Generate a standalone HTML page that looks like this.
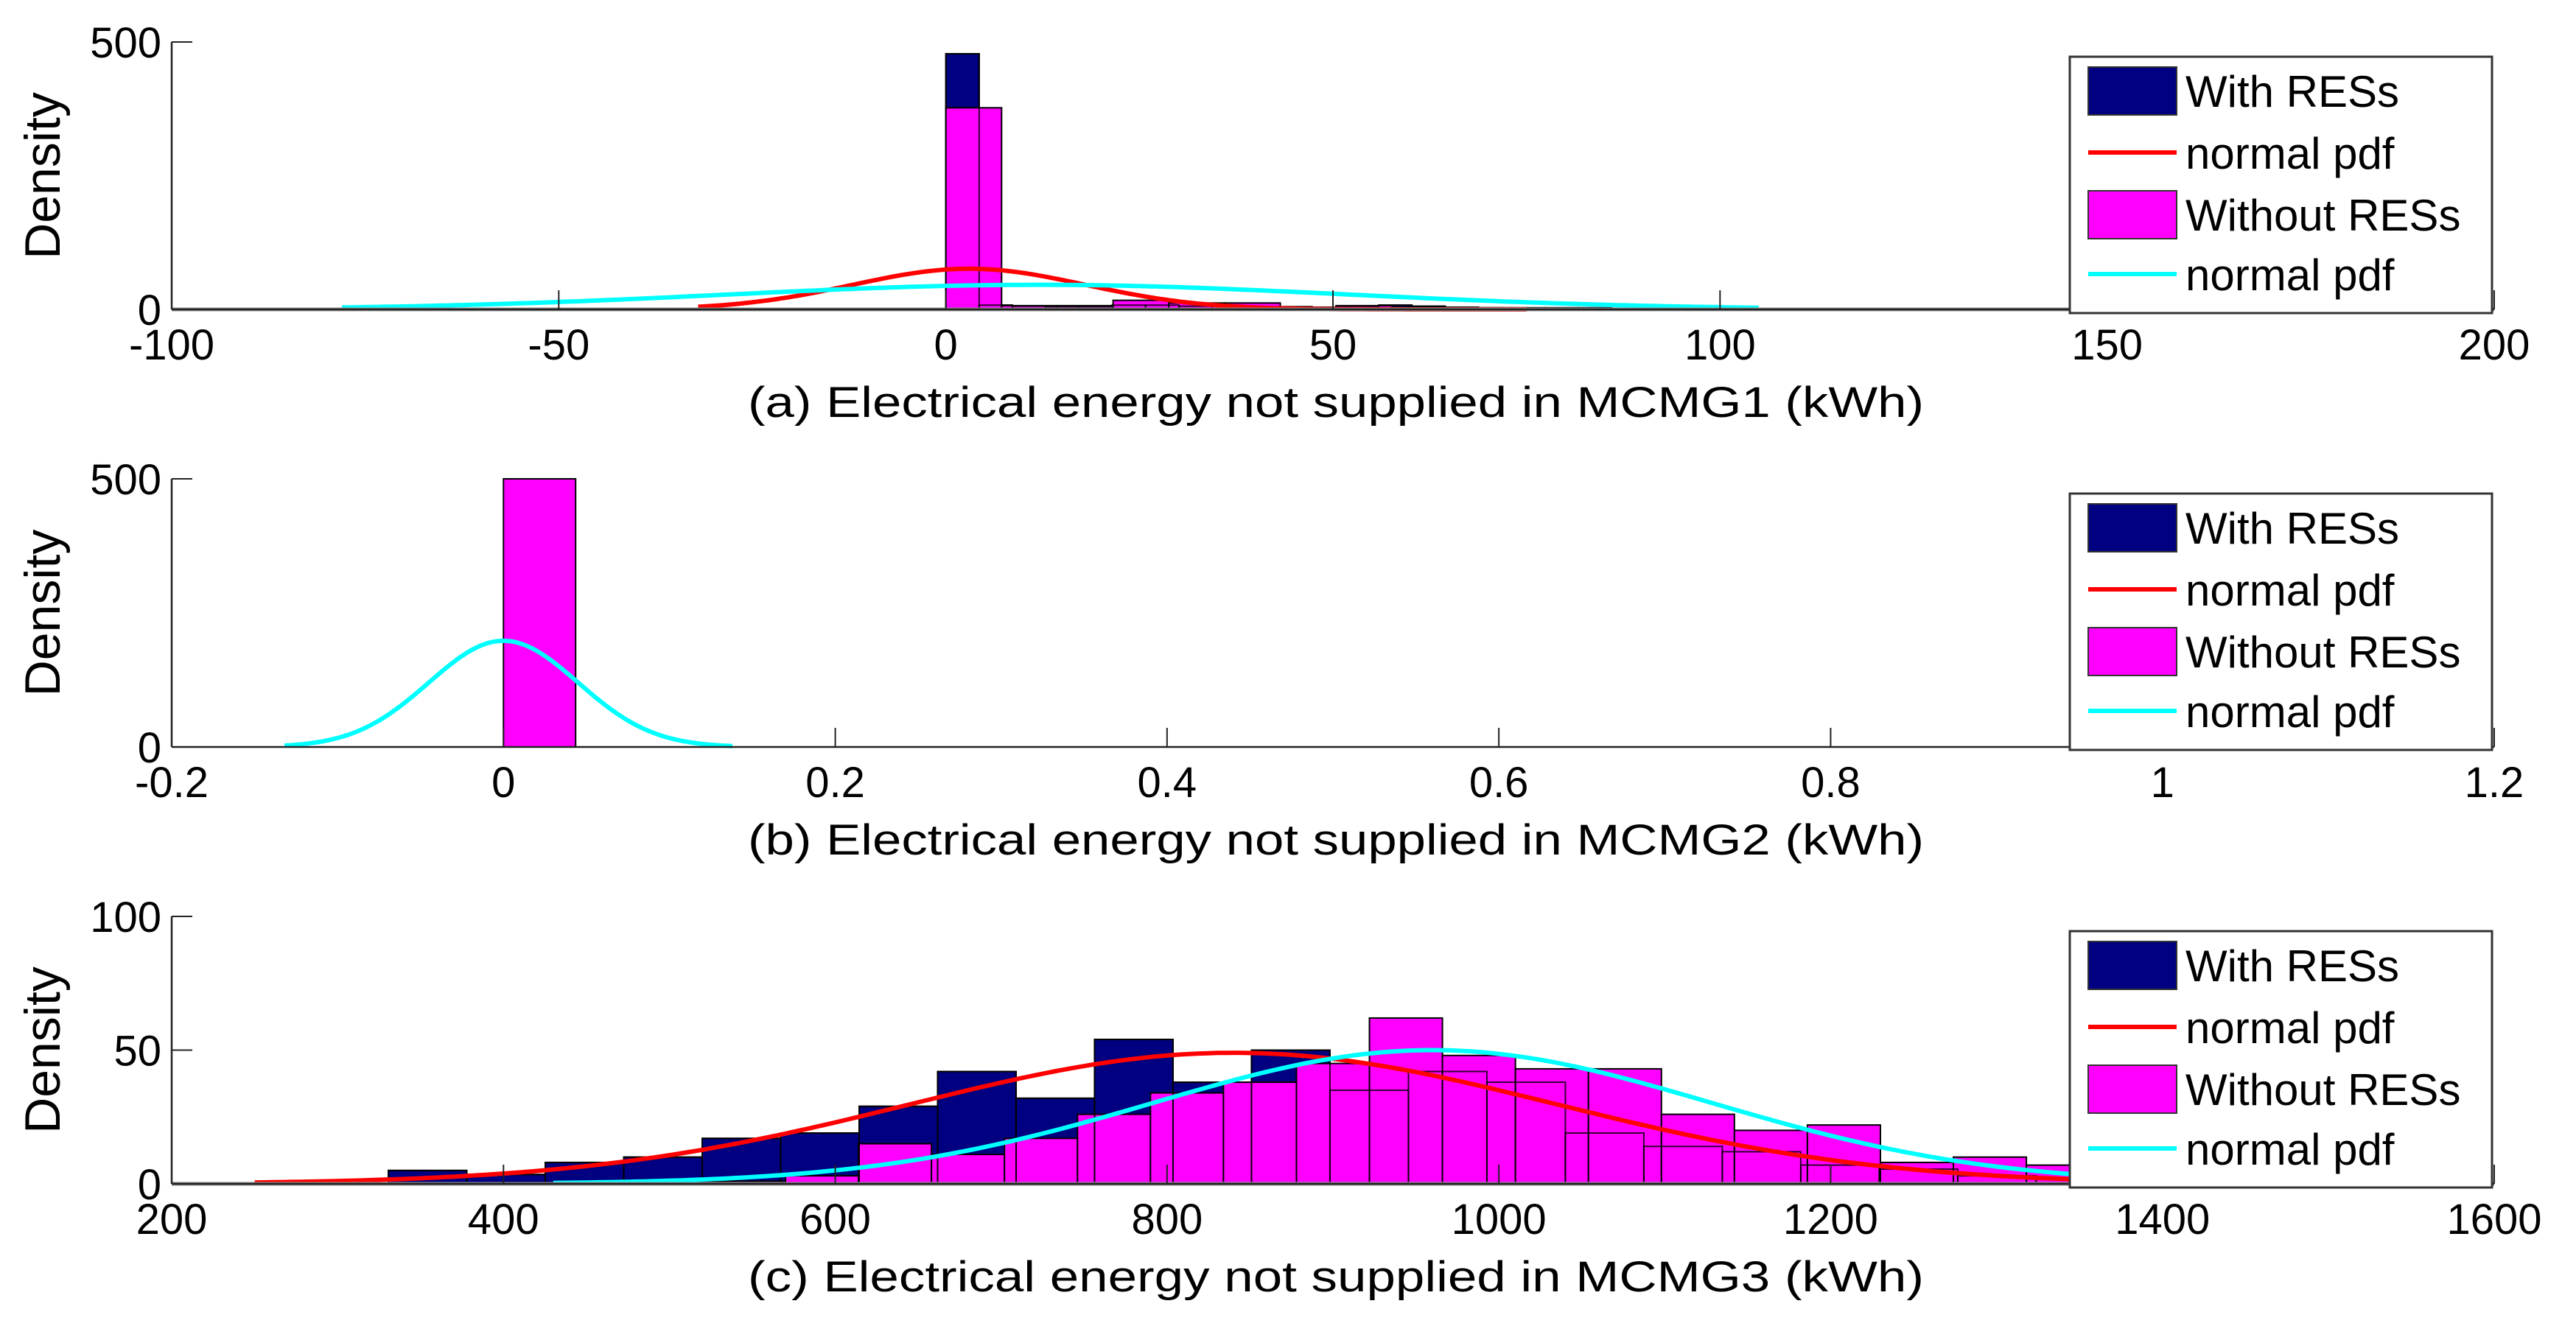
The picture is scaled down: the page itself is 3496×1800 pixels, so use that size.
<!DOCTYPE html>
<html><head><meta charset="utf-8"><style>
html,body{margin:0;padding:0;background:#fff}
svg{display:block}
text{font-family:"Liberation Sans",Arial,sans-serif;fill:#000}
</style></head><body>
<svg id="chart" width="3496" height="1800" viewBox="0 0 3496 1800" xmlns="http://www.w3.org/2000/svg"></svg>
<script>
// ---------- Panel (a) data ----------
const aXTicks = [-100, -50, 0, 50, 100, 150, 200];
const aYTicks = [0, 500];
const aBlueStart = 0, aBlueWidth = 4.3;
const aBlueValues = [478, 8, 6, 5, 5, 8, 8, 6, 6, 5, 5, 4, 4, 8, 6, 4, 3, 3, 3, 3, 2, 2, 2, 2, 1, 1, 1, 1, 1, 1, 1, 1, 1, 1, 1];
const aPinkStart = 0, aPinkWidth = 7.2;
const aPinkValues = [377, 7, 7, 17, 12, 12, 3, 7, 4, 3, 2, 1];
const aRedPdf = [3, 15, 76, -32, 75];     // mean, sd, peak, from, to
const aCyanPdf = [12, 40, 46, -78, 105];

// ---------- Panel (b) data ----------
const bXTicks = [-0.2, 0, 0.2, 0.4, 0.6, 0.8, 1, 1.2];
const bYTicks = [0, 500];
const bBlueStart = 0, bBlueWidth = 0.0435;
const bBlueValues = [];
const bPinkStart = 0, bPinkWidth = 0.0435;
const bPinkValues = [500];
const bRedPdf = null;
const bCyanPdf = [0, 0.045, 198, -0.132, 0.138];

// ---------- Panel (c) data ----------
const cXTicks = [200, 400, 600, 800, 1000, 1200, 1400, 1600];
const cYTicks = [0, 50, 100];
const cBlueStart = 330.6, cBlueWidth = 47.3;
const cBlueValues = [5, 3.5, 8, 10, 17, 19, 29, 42, 32, 54, 38, 50, 35, 42, 38, 19, 14, 12, 7, 5.5, 3, 2];
const cPinkStart = 482, cPinkWidth = 44;
const cPinkValues = [1, 1, 3, 15, 11, 17, 26, 34, 38, 45, 62, 48, 43, 43, 26, 20, 22, 8, 10, 7];
const cRedPdf = [840, 195, 49, 250, 1345];
const cCyanPdf = [960, 168, 50, 430, 1345];

const labels = ["(a) Electrical energy not supplied in MCMG1 (kWh)",
                "(b) Electrical energy not supplied in MCMG2 (kWh)",
                "(c) Electrical energy not supplied in MCMG3 (kWh)"];
const legendLabels = ["With RESs", "normal pdf", "Without RESs", "normal pdf"];

const NS = "http://www.w3.org/2000/svg";
const svg = document.getElementById('chart');
function mk(tag, attrs, parent) {
  const e = document.createElementNS(NS, tag);
  for (const k in attrs) e.setAttribute(k, attrs[k]);
  (parent || svg).appendChild(e);
  return e;
}

const panels = [
  {id:'a', top:57, bottom:420, xmin:-100, xmax:200, ymax:500, xt:aXTicks, yt:aYTicks,
   bs:aBlueStart, bw:aBlueWidth, bv:aBlueValues, ps:aPinkStart, pw:aPinkWidth, pv:aPinkValues,
   red:aRedPdf, cyan:aCyanPdf, gray:true, label:labels[0]},
  {id:'b', top:650, bottom:1014, xmin:-0.2, xmax:1.2, ymax:500, xt:bXTicks, yt:bYTicks,
   bs:bBlueStart, bw:bBlueWidth, bv:bBlueValues, ps:bPinkStart, pw:bPinkWidth, pv:bPinkValues,
   red:bRedPdf, cyan:bCyanPdf, gray:false, label:labels[1]},
  {id:'c', top:1244, bottom:1607, xmin:200, xmax:1600, ymax:100, xt:cXTicks, yt:cYTicks,
   bs:cBlueStart, bw:cBlueWidth, bv:cBlueValues, ps:cPinkStart, pw:cPinkWidth, pv:cPinkValues,
   red:cRedPdf, cyan:cCyanPdf, gray:true, label:labels[2]}
];
const L = 233, R = 3385;

function fmt(v){ return String(Math.round(v*1000)/1000); }

panels.forEach(p => {
  const g = mk('g', {});
  
  
  const xs = v => L + (v - p.xmin) / (p.xmax - p.xmin) * (R - L);
  const ys = v => p.bottom - v / p.ymax * (p.bottom - p.top);

  // blue bars
  p.bv.forEach((v, i) => {
    const x0 = xs(p.bs + i * p.bw), x1 = xs(p.bs + (i + 1) * p.bw);
    const r = mk('rect', {x:x0, y:ys(v), width:x1 - x0, height:p.bottom - ys(v), fill:'#000080', stroke:'#000', 'stroke-width':2}, g);
    
    
  });
  // pink bars
  p.pv.forEach((v, i) => {
    const x0 = xs(p.ps + i * p.pw), x1 = xs(p.ps + (i + 1) * p.pw);
    const r = mk('rect', {x:x0, y:ys(v), width:x1 - x0, height:p.bottom - ys(v), fill:'#ff00ff', stroke:'#000', 'stroke-width':2}, g);
    
    
  });
  // blue outlines on top
  p.bv.forEach((v, i) => {
    const x0 = xs(p.bs + i * p.bw), x1 = xs(p.bs + (i + 1) * p.bw);
    mk('rect', {x:x0, y:ys(v), width:x1 - x0, height:p.bottom - ys(v), fill:'none', stroke:'#000', 'stroke-width':2, 'stroke-opacity':0.8}, g);
  });
  // pdf curves
  [[p.red, '#ff0000', 'red-normal-pdf'], [p.cyan, '#00ffff', 'cyan-normal-pdf']].forEach(([c, col, nm]) => {
    if (!c) return;
    const [mu, sd, pk, a, b] = c;
    let d = '';
    for (let k = 0; k <= 200; k++) {
      const x = a + (b - a) * k / 200;
      const y = pk * Math.exp(-((x - mu) ** 2) / (2 * sd * sd));
      d += (k ? 'L' : 'M') + xs(x).toFixed(1) + ',' + ys(y).toFixed(1);
    }
    const path = mk('path', {d:d, fill:'none', stroke:col, 'stroke-width':6}, g);
    
    
  });

  // axes
  if (p.gray) mk('line', {x1:L, y1:p.bottom, x2:R, y2:p.bottom, stroke:'#888', 'stroke-width':5}, g);
  const xa = mk('line', {x1:L, y1:p.bottom, x2:R, y2:p.bottom, stroke:'#222', 'stroke-width':2.5}, g);
  
  
  const ya = mk('line', {x1:L, y1:p.top, x2:L, y2:p.bottom, stroke:'#222', 'stroke-width':2.5}, g);
  
  

  p.xt.forEach(t => {
    const x = xs(t);
    mk('line', {x1:x, y1:p.bottom, x2:x, y2:p.bottom - 26, stroke:'#222', 'stroke-width':2}, g);
    const tx = mk('text', {x:x, y:p.bottom + 68, 'font-size':58, 'text-anchor':'middle'}, g);
    tx.textContent = fmt(t);
    
    
  });
  p.yt.forEach(t => {
    const y = ys(t);
    mk('line', {x1:L, y1:y, x2:L + 28, y2:y, stroke:'#222', 'stroke-width':2}, g);
    const tx = mk('text', {x:L - 14, y:y + 21, 'font-size':58, 'text-anchor':'end'}, g);
    tx.textContent = fmt(t);
    
    
  });

  const yl = mk('text', {x:0, y:0, 'font-size':68, 'text-anchor':'middle',
    transform:'translate(81,' + ((p.top + p.bottom) / 2) + ') rotate(-90)'}, g);
  yl.textContent = 'Density';
  
  

  const xl = mk('text', {x:1015, y:p.bottom + 146, 'font-size':58, textLength:1596, lengthAdjust:'spacingAndGlyphs'}, g);
  xl.textContent = p.label;
  
  

  // legend
  const lt = p.top + 20;
  const lg = mk('g', {}, g);
  
  
  mk('rect', {x:2809, y:lt, width:573, height:348, fill:'#fff', stroke:'#333', 'stroke-width':3}, lg);
  const rows = [46, 130, 214, 295];
  rows.forEach((off, i) => {
    const cy = lt + off;
    let sw;
    if (i === 0 || i === 2) {
      sw = mk('rect', {x:2834, y:cy - 32, width:120, height:65, fill:i === 0 ? '#000080' : '#ff00ff', stroke:'#333', 'stroke-width':2}, lg);
    } else {
      sw = mk('line', {x1:2834, y1:cy, x2:2954, y2:cy, stroke:i === 1 ? '#ff0000' : '#00ffff', 'stroke-width':6}, lg);
    }
    
    
    const attrs = {x:2966, y:cy + 22, 'font-size':60};
    const tx = mk('text', attrs, lg);
    tx.textContent = legendLabels[i];
    
    
  });
});
</script>
</body></html>
